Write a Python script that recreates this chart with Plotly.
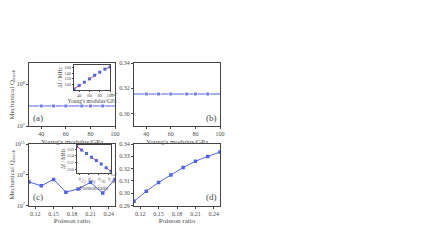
import plotly.graph_objects as go

# ---- data ----
young_x = [30, 40, 50, 60, 73, 80, 90, 100]
young_q = [3.0e7, 3.0e7, 3.0e7, 3.0e7, 3.0e7, 3.0e7, 3.0e7, 3.0e7]
young_xi = [0.3154, 0.3154, 0.3154, 0.3154, 0.3154, 0.3154, 0.3154, 0.3154]
young_marker = [0, 4, 4, 4, 4, 4, 4, 0]

inset_a_x = [30, 40, 50, 60, 70, 80, 90, 100]
inset_a_df = [84, 96, 108, 120, 133, 144, 155, 163]

poisson_x = [0.11, 0.13, 0.15, 0.17, 0.19, 0.21, 0.23, 0.25]
poisson_q = [3.4e8, 1.9e8, 5.0e8, 7.4e7, 1.2e8, 3.2e8, 6.4e7, 4.9e8]
poisson_xi = [0.2934, 0.3015, 0.3087, 0.3148, 0.3208, 0.3259, 0.3299, 0.3334]
inset_c_df = [156.8, 155.7, 154.7, 153.6, 152.6, 151.6, 150.5, 149.4]

young_ticks = [40, 60, 80, 100]
poisson_ticks = [0.12, 0.15, 0.18, 0.21, 0.24]
poisson_ticks_inset = [0.12, 0.16, 0.20, 0.24]
q_ticks_a = [1e7, 1e8]
q_ticklabels_a = ["10<sup>7</sup>", "10<sup>8</sup>"]
q_ticks_c = [1e7, 1e9, 1e11]
q_ticklabels_c = ["10<sup>7</sup>", "10<sup>9</sup>", "10<sup>11</sup>"]

BLUE = "#4f63f0"
RED = "#f04848"
AX = "#444444"
TXT = "#4a4a4a"
FONT = "Liberation Serif"
W, H = 436, 245
OFF = 8  # page body margin in the browser

def fx(a, b):
    return [(a - OFF) / W, (b - OFF) / W]

def fy(top, bottom):
    return [1 - (bottom - OFF) / H, 1 - (top - OFF) / H]

fig = go.Figure()

line = dict(color=BLUE, width=1)
mk = dict(color=BLUE, symbol="square")

fig.add_trace(go.Scatter(x=young_x, y=young_q, mode="lines+markers", line=line,
                         marker=dict(mk, size=young_marker), xaxis="x", yaxis="y"))
fig.add_trace(go.Scatter(x=young_x, y=young_xi, mode="lines+markers", line=line,
                         marker=dict(mk, size=young_marker), xaxis="x2", yaxis="y2"))
fig.add_trace(go.Scatter(x=poisson_x, y=poisson_q, mode="lines+markers", line=line,
                         marker=dict(mk, size=3.5), xaxis="x3", yaxis="y3"))
fig.add_trace(go.Scatter(x=poisson_x, y=poisson_xi, mode="lines+markers",
                         line=dict(color=BLUE, width=1, shape="spline"),
                         marker=dict(mk, size=3.5), xaxis="x4", yaxis="y4"))
# insets
fig.add_trace(go.Scatter(x=inset_a_x, y=inset_a_df, mode="lines",
                         line=dict(color=RED, width=1, dash="dash"), xaxis="x5", yaxis="y5"))
fig.add_trace(go.Scatter(x=inset_a_x, y=inset_a_df, mode="markers",
                         marker=dict(mk, size=3), xaxis="x5", yaxis="y5"))
fig.add_trace(go.Scatter(x=poisson_x, y=inset_c_df, mode="lines",
                         line=dict(color=RED, width=1, dash="dash"), xaxis="x6", yaxis="y6"))
fig.add_trace(go.Scatter(x=poisson_x, y=inset_c_df, mode="markers",
                         marker=dict(mk, size=3), xaxis="x6", yaxis="y6"))

def axis(domain, anchor, title, tsize=6, standoff=2, **kw):
    d = dict(domain=domain, anchor=anchor, showline=True, linecolor=AX, linewidth=1,
             mirror=True, ticks="outside", ticklen=2, tickcolor=AX, showgrid=False,
             zeroline=False, automargin=False,
             tickfont=dict(family=FONT, size=tsize, color=TXT),
             title=dict(text=title, standoff=standoff,
                        font=dict(family=FONT, size=tsize + 1, color=TXT)))
    d.update(kw)
    return d

xa = fx(29, 115)
xb = fx(134, 220)
ytop = fy(63, 126)
ybot = fy(144, 205.5)

layout = dict(
    width=W, height=H, margin=dict(l=0, r=0, t=0, b=0),
    paper_bgcolor="white", plot_bgcolor="white", showlegend=False,
    font=dict(family=FONT, size=7, color=TXT),
)
layout["xaxis"] = axis(xa, "y", "Young's modulus/GPa", range=[30, 100], tickvals=young_ticks)
layout["yaxis"] = axis(ytop, "x", "Mechanical Q<sub>mech</sub>", type="log", range=[7, 8.5],
                       tickvals=q_ticks_a, ticktext=q_ticklabels_a)
layout["xaxis2"] = axis(xb, "y2", "Young's modulus/GPa", range=[30, 100], tickvals=young_ticks)
layout["yaxis2"] = axis(ytop, "x2", "ξ", range=[0.29, 0.34], tickvals=[0.30, 0.32, 0.34],
                        tickformat=".2f")
layout["xaxis3"] = axis(xa, "y3", "Poisson ratio", range=[0.11, 0.25], tickvals=poisson_ticks,
                        tickformat=".2f")
layout["yaxis3"] = axis(ybot, "x3", "Mechanical Q<sub>mech</sub>", type="log", range=[7, 11],
                        tickvals=q_ticks_c, ticktext=q_ticklabels_c)
layout["xaxis4"] = axis(xb, "y4", "Poisson ratio", range=[0.11, 0.25], tickvals=poisson_ticks,
                        tickformat=".2f")
layout["yaxis4"] = axis(ybot, "x4", "ξ", range=[0.29, 0.34], dtick=0.01, tickformat=".2f")

layout["xaxis5"] = axis(fx(74, 110), "y5", "Young's modulus/GPa", tsize=4.5, standoff=0,
                        range=[30, 100], tickvals=young_ticks, ticklen=1)
layout["yaxis5"] = axis(fy(65, 90), "x5", "Δf / MHz", tsize=4.5, standoff=1,
                        range=[80, 170], tickvals=[100, 120, 140, 160], ticklen=1)
layout["xaxis6"] = axis(fx(76.7, 111), "y6", "Poisson ratio", tsize=4.5, standoff=0,
                        range=[0.11, 0.25], tickvals=poisson_ticks_inset, tickformat=".2f",
                        ticklen=1)
layout["yaxis6"] = axis(fy(145, 172.7), "x6", "Δf / MHz", tsize=4.5, standoff=1,
                        range=[149.0, 157.2], tickvals=[150, 152, 154, 156], ticklen=1)

lab = dict(family=FONT, size=9, color=TXT)
def px(x):
    return (x - OFF) / W
def py(y):
    return 1 - (y - OFF) / H
layout["annotations"] = [
    dict(text="(a)", x=px(31), y=py(125), xref="paper", yref="paper",
         xanchor="left", yanchor="bottom", showarrow=False, font=lab),
    dict(text="(b)", x=px(219), y=py(125), xref="paper", yref="paper",
         xanchor="right", yanchor="bottom", showarrow=False, font=lab),
    dict(text="(c)", x=px(31), y=py(204), xref="paper", yref="paper",
         xanchor="left", yanchor="bottom", showarrow=False, font=lab),
    dict(text="(d)", x=px(219), y=py(204), xref="paper", yref="paper",
         xanchor="right", yanchor="bottom", showarrow=False, font=lab),
]
fig.update_layout(**layout)
fig.write_html("out.html")
